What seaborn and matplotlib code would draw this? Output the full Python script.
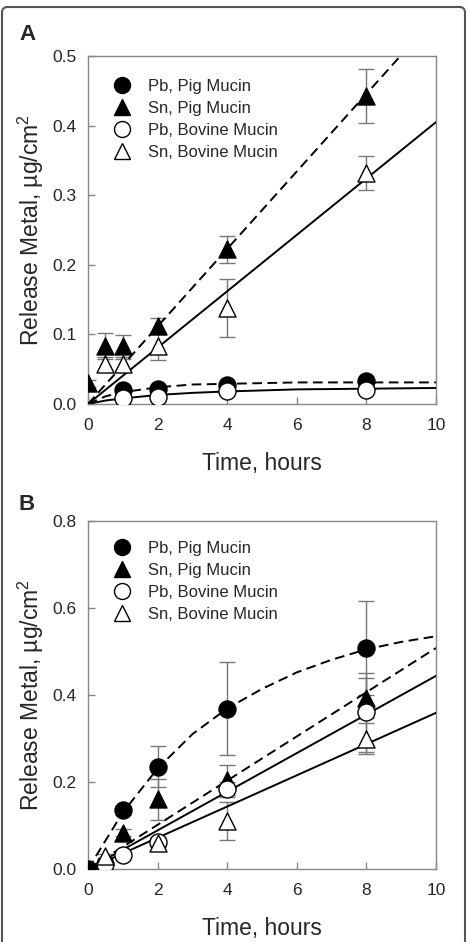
import numpy as np
import pandas as pd
import matplotlib
matplotlib.use("Agg")
import matplotlib.pyplot as plt
import seaborn as sns
from matplotlib.lines import Line2D
from matplotlib.patches import FancyBboxPatch

sns.set_style("white")
plt.rcParams['font.family'] = ['Liberation Sans', 'DejaVu Sans']
plt.rcParams['mathtext.fontset'] = 'custom'
plt.rcParams['mathtext.rm'] = 'Liberation Sans'

series_names = ["Pb, Pig Mucin", "Sn, Pig Mucin", "Pb, Bovine Mucin", "Sn, Bovine Mucin"]

# ---------------- Panel A data ----------------
A_pb_pig_t = [1, 2, 4, 8]
A_pb_pig_y = [0.020, 0.022, 0.028, 0.033]
A_pb_pig_e = [0.004, 0.004, 0.004, 0.004]

A_sn_pig_t = [0, 0.5, 1, 2, 4, 8]
A_sn_pig_y = [0.030, 0.083, 0.083, 0.112, 0.222, 0.443]
A_sn_pig_e = [0.005, 0.019, 0.016, 0.012, 0.019, 0.039]

A_pb_bov_t = [1, 2, 4, 8]
A_pb_bov_y = [0.008, 0.010, 0.018, 0.020]
A_pb_bov_e = [0.004, 0.004, 0.004, 0.004]

A_sn_bov_t = [0.5, 1, 2, 4, 8]
A_sn_bov_y = [0.057, 0.057, 0.083, 0.138, 0.332]
A_sn_bov_e = [0.010, 0.008, 0.020, 0.042, 0.025]

# fitted curves
A_fit_pb_pig_t = [0, 0.5, 1, 2, 3, 4, 6, 8, 10]
A_fit_pb_pig_y = [0, 0.011, 0.017, 0.024, 0.028, 0.029, 0.031, 0.031, 0.031]
A_fit_pb_bov_t = [0, 0.5, 1, 2, 3, 4, 6, 8, 10]
A_fit_pb_bov_y = [0, 0.005, 0.008, 0.013, 0.016, 0.018, 0.021, 0.022, 0.023]
A_fit_sn_pig_t = [0, 10]
A_fit_sn_pig_y = [0, 0.557]
A_fit_sn_bov_t = [0, 10]
A_fit_sn_bov_y = [0, 0.405]

# ---------------- Panel B data ----------------
B_pb_pig_t = [0, 1, 2, 4, 8]
B_pb_pig_y = [0.0, 0.135, 0.235, 0.368, 0.508]
B_pb_pig_e = [0.0, 0.010, 0.047, 0.107, 0.107]

B_sn_pig_t = [1, 2, 4, 8]
B_sn_pig_y = [0.083, 0.160, 0.205, 0.393]
B_sn_pig_e = [0.008, 0.047, 0.035, 0.045]

B_pb_bov_t = [0.5, 1, 2, 4, 8]
B_pb_bov_y = [0.012, 0.033, 0.063, 0.183, 0.360]
B_pb_bov_e = [0.005, 0.006, 0.010, 0.018, 0.090]

B_sn_bov_t = [0.5, 2, 4, 8]
B_sn_bov_y = [0.030, 0.060, 0.110, 0.300]
B_sn_bov_e = [0.005, 0.008, 0.043, 0.035]

B_fit_pb_pig_t = [0, 1, 2, 3, 4, 5, 6, 7, 8, 9, 10]
B_fit_pb_pig_y = [0, 0.130, 0.231, 0.310, 0.369, 0.414, 0.452, 0.481, 0.505, 0.522, 0.535]
B_fit_sn_pig_t = [0, 10]
B_fit_sn_pig_y = [0, 0.508]
B_fit_pb_bov_t = [0, 10]
B_fit_pb_bov_y = [0, 0.444]
B_fit_sn_bov_t = [0, 10]
B_fit_sn_bov_y = [0, 0.359]

A_yticks = [0.0, 0.1, 0.2, 0.3, 0.4, 0.5]
B_yticks = [0.0, 0.2, 0.4, 0.6, 0.8]
xticks = [0, 2, 4, 6, 8, 10]

styles = {
    "Pb, Pig Mucin": dict(marker="o", face="black"),
    "Sn, Pig Mucin": dict(marker="^", face="black"),
    "Pb, Bovine Mucin": dict(marker="o", face="white"),
    "Sn, Bovine Mucin": dict(marker="^", face="white"),
}

W, H = 467, 942
fig = plt.figure(figsize=(W / 100, H / 100), dpi=100)

# rounded outer frame
box = FancyBboxPatch((2 / W, -0.02), (463 / W), 1 - 7 / H + 0.02,
                     boxstyle="round,pad=0,rounding_size=0.012",
                     transform=fig.transFigure, fill=False,
                     edgecolor="#555555", linewidth=1.5, mutation_aspect=W / H)
fig.patches.append(box)

DASH = (0, (5, 2.8))
SPINE = "#888888"


def draw_panel(ax, pts, fits, yticks, ylim, fmt, leg_y):
    for name, (t, y, e) in zip(series_names, pts):
        ax.errorbar(t, y, yerr=e, fmt="none", ecolor="#777777", elinewidth=1.0,
                    capsize=5.5, capthick=1.0, zorder=2)
    for (t, y, ls) in fits:
        sns.lineplot(x=t, y=y, ax=ax, color="black", lw=1.4, zorder=3,
                     estimator=None, sort=False).lines[-1].set_linestyle(ls)
    for name, (t, y, e) in zip(series_names, pts):
        st = styles[name]
        sns.scatterplot(x=t, y=y, ax=ax, marker=st["marker"], color=st["face"],
                        edgecolor="black", linewidth=1.0, s=150, zorder=4, legend=False)
    ax.set_xlim(0, 10)
    ax.set_ylim(*ylim)
    ax.set_xticks(xticks)
    ax.set_yticks(yticks)
    ax.set_yticklabels([fmt.format(v) for v in yticks])
    ax.tick_params(direction="in", length=5, width=1, color=SPINE,
                   labelsize=12.5, pad=8, top=False, right=False, left=True, bottom=True)
    ax.tick_params(axis="x", pad=10)
    for sp in ax.spines.values():
        sp.set_color(SPINE)
        sp.set_linewidth(1.0)
    ax.set_xlabel("Time, hours", fontsize=16.5, labelpad=14)
    ax.set_ylabel("Release Metal, \u00b5g/cm$^2$", fontsize=16.5, labelpad=5)
    handles = [Line2D([], [], linestyle="none", marker=styles[n]["marker"],
                      markerfacecolor=styles[n]["face"], markeredgecolor="black",
                      markersize=11.5, markeredgewidth=1.0) for n in series_names]
    ax.legend(handles, series_names, loc="upper left", bbox_to_anchor=(0.02, leg_y),
              frameon=False, fontsize=12, handletextpad=0.6, labelspacing=0.42,
              borderaxespad=0.2)


axA = fig.add_axes([88 / W, 1 - 404 / H, 348 / W, 348 / H])
draw_panel(axA,
           [(A_pb_pig_t, A_pb_pig_y, A_pb_pig_e), (A_sn_pig_t, A_sn_pig_y, A_sn_pig_e),
            (A_pb_bov_t, A_pb_bov_y, A_pb_bov_e), (A_sn_bov_t, A_sn_bov_y, A_sn_bov_e)],
           [(A_fit_pb_pig_t, A_fit_pb_pig_y, DASH), (A_fit_pb_bov_t, A_fit_pb_bov_y, "-"),
            (A_fit_sn_pig_t, A_fit_sn_pig_y, DASH), (A_fit_sn_bov_t, A_fit_sn_bov_y, "-")],
           A_yticks, (0, 0.5), "{:.1f}", 0.963)

axB = fig.add_axes([88 / W, 1 - 869 / H, 348 / W, 348 / H])
draw_panel(axB,
           [(B_pb_pig_t, B_pb_pig_y, B_pb_pig_e), (B_sn_pig_t, B_sn_pig_y, B_sn_pig_e),
            (B_pb_bov_t, B_pb_bov_y, B_pb_bov_e), (B_sn_bov_t, B_sn_bov_y, B_sn_bov_e)],
           [(B_fit_pb_pig_t, B_fit_pb_pig_y, DASH), (B_fit_sn_pig_t, B_fit_sn_pig_y, DASH),
            (B_fit_pb_bov_t, B_fit_pb_bov_y, "-"), (B_fit_sn_bov_t, B_fit_sn_bov_y, "-")],
           B_yticks, (0, 0.8), "{:.1f}", 0.972)

fig.text(19 / W, 1 - 35 / H, "A", fontsize=16, fontweight="bold", va="center", ha="left")
fig.text(19 / W, 1 - 505 / H, "B", fontsize=16, fontweight="bold", va="center", ha="left")

fig.savefig("out.png", dpi=100)
